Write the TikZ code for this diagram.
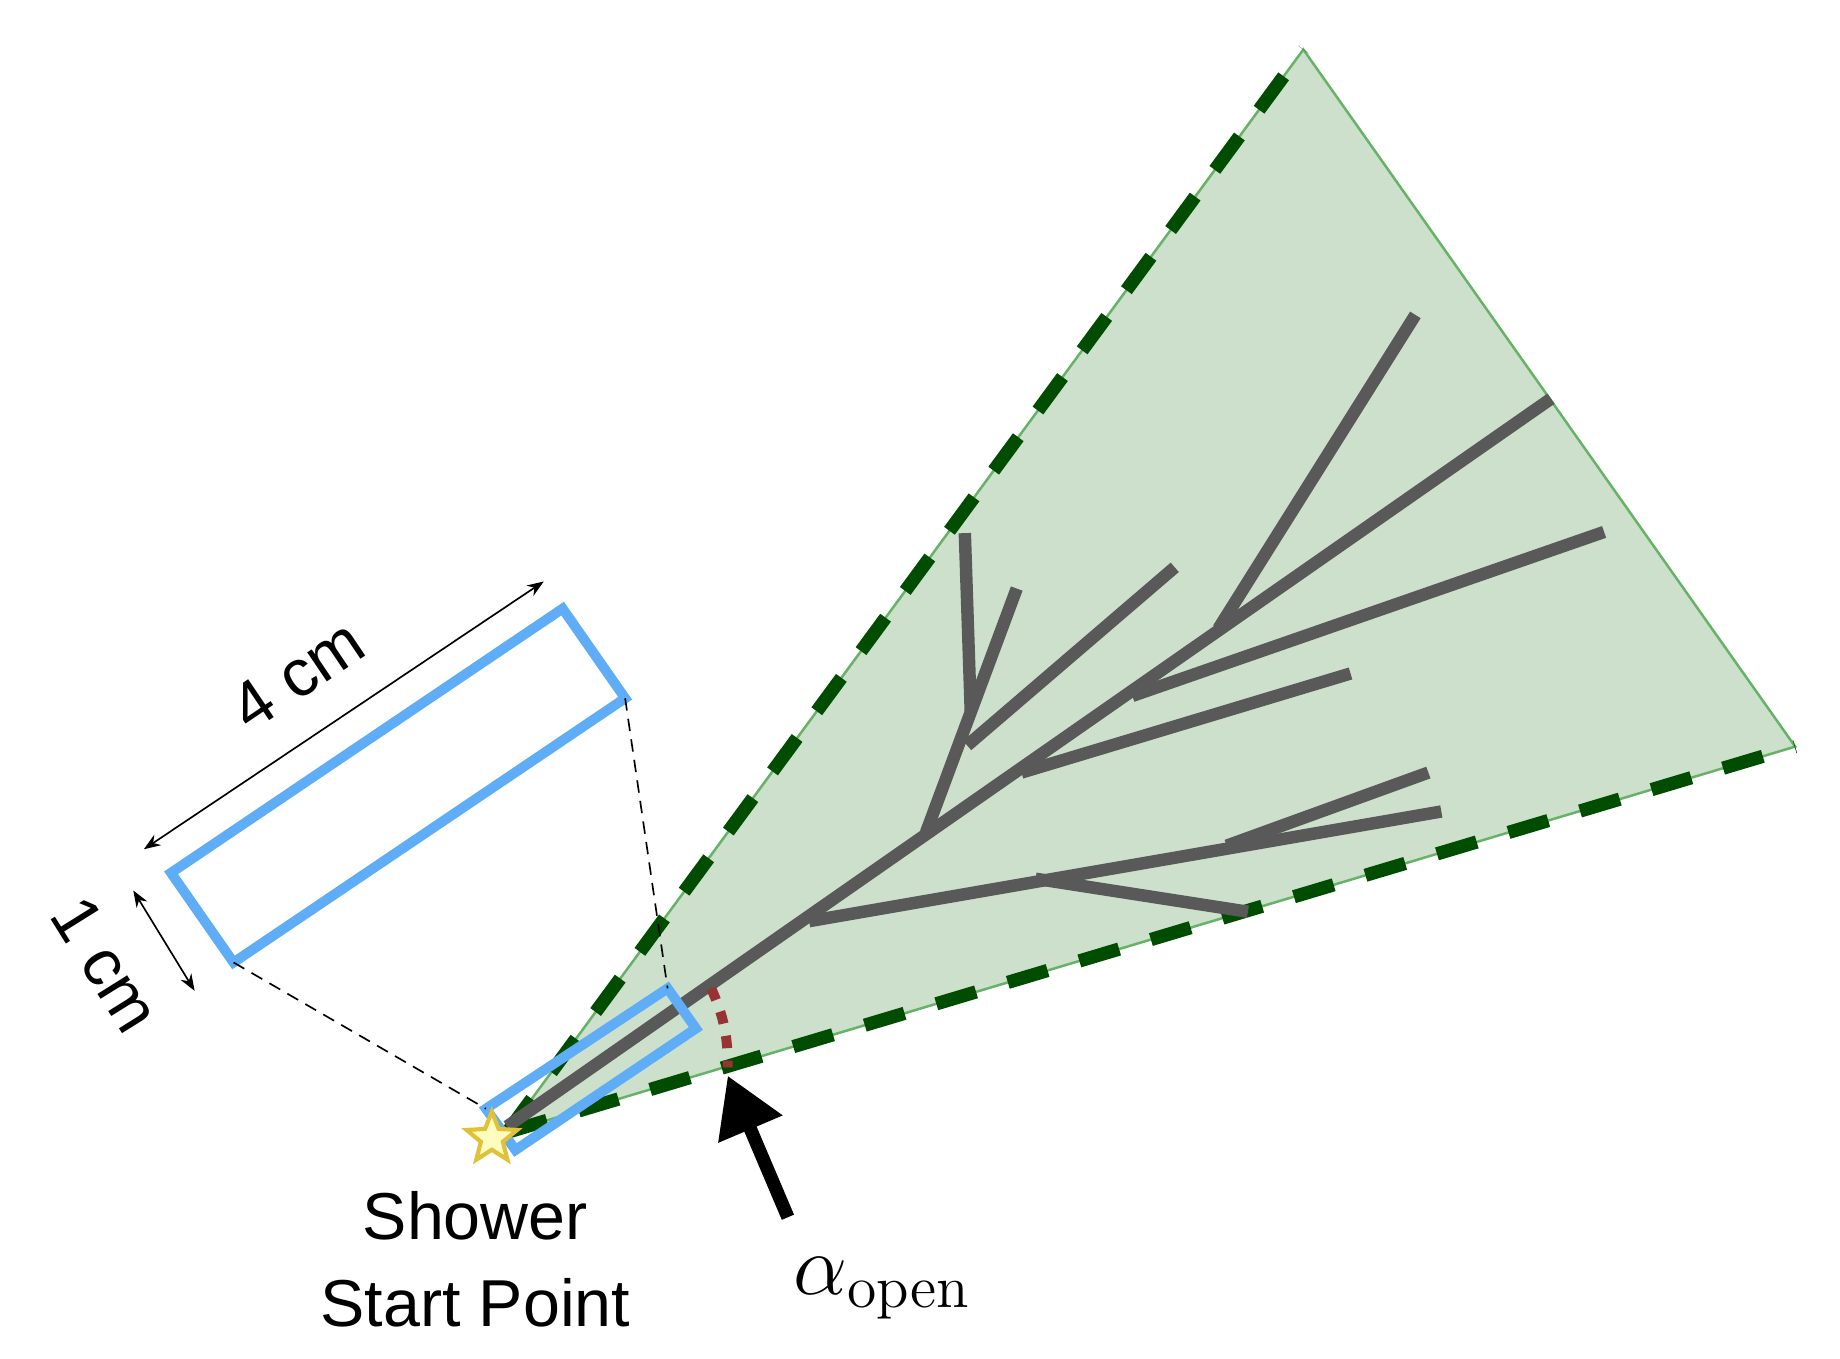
\documentclass[tikz,border=0pt]{standalone}
\usepackage[no-math]{fontspec}
\setmainfont{Liberation Sans}
\usetikzlibrary{shapes.geometric,arrows.meta}
\definecolor{boxblue}{HTML}{5FADF6}
\begin{document}
\begin{tikzpicture}[
x=0.01cm, y=-0.01cm,
branch/.style={draw=black!65, line width=3pt},
blue box/.style={draw=boxblue, line width=2.4pt},
edge/.style={draw=green!50!black!60, line width=0.6pt},
cone dash/.style={draw=green!30!black, line width=3.2pt, dash pattern=on 10pt off 8pt},
guide/.style={draw, densely dashed, thin},
dim/.style={<->, >={Stealth[length=4pt]}, thin}
]
\useasboundingbox (0,0) rectangle (1560,1152);

% cone
\coordinate (apex) at (430,960);
\coordinate (top) at (1105,42);
\coordinate (right) at (1522,633);
\fill[green!40!black!20] (apex) -- (top) -- (right) -- cycle;
\draw[edge] (apex) -- (top) -- (right) -- cycle;
\draw[cone dash] (apex) -- (top);
\draw[cone dash] (apex) -- (right);

% shower branches
\draw[branch] (430,955) -- (1315,338);
\draw[branch] (1200,267) -- (1033,533);
\draw[branch] (1360,451) -- (960,590);
\draw[branch] (1145,571) -- (866,655);
\draw[branch] (996,481) -- (820,632);
\draw[branch] (862,499) -- (785,706);
\draw[branch] (818,452) -- (823,603);
\draw[branch] (686,781) -- (1222,688);
\draw[branch] (1211,655) -- (1040,717);
\draw[branch] (878,745) -- (1058,773);

% boxes
\coordinate (s1) at (412,940); \coordinate (s2) at (566,838);
\coordinate (s3) at (590,872); \coordinate (s4) at (437,975);
\coordinate (b1) at (145,740); \coordinate (b2) at (477,516);
\coordinate (b3) at (530,592); \coordinate (b4) at (198,816);
\draw[blue box] (s1) -- (s2) -- (s3) -- (s4) -- cycle;
\draw[blue box] (b1) -- (b2) -- (b3) -- (b4) -- cycle;
\draw[guide] (b3) -- (s2);
\draw[guide] (b4) -- (s1);

% dimensions
\coordinate (d1) at (122,720); \coordinate (d2) at (461,493);
\coordinate (d3) at (113,755); \coordinate (d4) at (165,840);
\draw[dim] (d1) -- (d2);
\draw[dim] (d3) -- (d4);
\node[rotate=34, font=\fontsize{16}{19}\selectfont] (lfour) at (252,572) {4 cm};
\node[rotate=-58, font=\fontsize{16}{19}\selectfont] (lone) at (90,818) {1 cm};

% start point and opening angle
\node[star, star points=5, star point ratio=2.3, minimum size=0.45cm, inner sep=0pt,
  draw=yellow!50!brown, fill=yellow!25, line width=1pt] (start) at (417,965) {};
\node[font=\fontsize{16}{21}\selectfont, align=center] (startlbl) at (403,1068) {Shower\\Start Point};
\draw[red!50!black!80, line width=2.4pt, dash pattern=on 3pt off 3pt] (603,838) to[bend left=12] (617,905);
\coordinate (tip) at (617,912);
\coordinate (tail) at (668,1032);
\draw[line width=3.2pt, -{Triangle[length=14pt,width=16pt]}] (tail) -- (tip);
\node[font=\fontsize{20}{24}\selectfont] (alpha) at (748,1092) {$\alpha_{\mathrm{open}}$};
\end{tikzpicture}
\end{document}
